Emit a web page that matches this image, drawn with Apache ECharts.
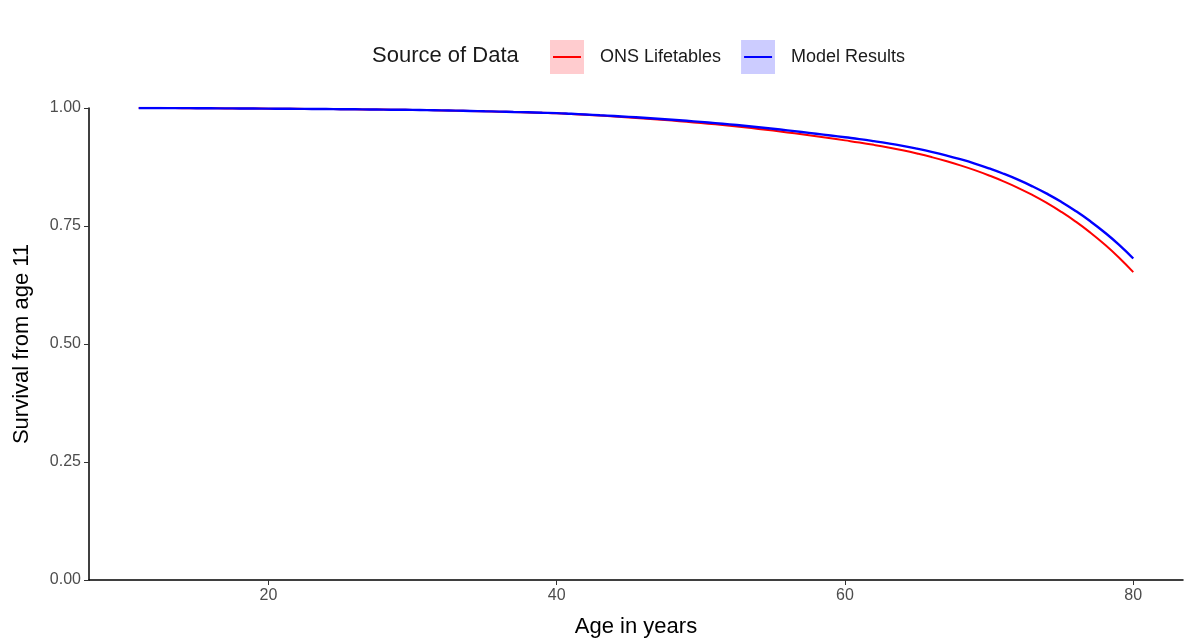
<!DOCTYPE html>
<html>
<head>
<meta charset="utf-8">
<script src="https://cdn.jsdelivr.net/npm/echarts@6/dist/echarts.min.js"></script>
<style>
  html, body { margin: 0; padding: 0; background: #fff; }
  #main { width: 1198px; height: 643px; }
</style>
</head>
<body>
<div id="main"></div>
<script>
// ages 11..80
var ages = [];
for (var a = 11; a <= 80; a++) ages.push(a);

var onsSurvival = [
  1.0000, 0.9999, 0.9998, 0.9997, 0.9996, 0.9994, 0.9992, 0.9990, 0.9988, 0.9986,
  0.9984, 0.9982, 0.9980, 0.9978, 0.9975, 0.9972, 0.9969, 0.9966, 0.9963, 0.9960,
  0.9955, 0.9949, 0.9943, 0.9936, 0.9929, 0.9922, 0.9914, 0.9906, 0.9897, 0.9887,
  0.9872, 0.9856, 0.9839, 0.9821, 0.9801, 0.9780, 0.9758, 0.9734, 0.9708, 0.9681,
  0.9653, 0.9623, 0.9591, 0.9557, 0.9521, 0.9483, 0.9443, 0.9401, 0.9358, 0.9314,
  0.9269, 0.9219, 0.9164, 0.9103, 0.9035, 0.8960, 0.8877, 0.8785, 0.8683, 0.8570,
  0.8446, 0.8309, 0.8157, 0.7988, 0.7801, 0.7594, 0.7365, 0.7112, 0.6832, 0.6522
];

var modelSurvival = [
  1.0000, 0.9999, 0.9998, 0.9997, 0.9996, 0.9994, 0.9992, 0.9990, 0.9988, 0.9986,
  0.9984, 0.9982, 0.9980, 0.9978, 0.9975, 0.9972, 0.9969, 0.9966, 0.9963, 0.9960,
  0.9956, 0.9950, 0.9944, 0.9938, 0.9931, 0.9924, 0.9916, 0.9909, 0.9900, 0.9891,
  0.9877, 0.9862, 0.9846, 0.9830, 0.9812, 0.9793, 0.9773, 0.9752, 0.9729, 0.9705,
  0.9680, 0.9653, 0.9624, 0.9593, 0.9561, 0.9527, 0.9491, 0.9454, 0.9417, 0.9379,
  0.9341, 0.9298, 0.9251, 0.9198, 0.9138, 0.9072, 0.8998, 0.8915, 0.8823, 0.8720,
  0.8607, 0.8481, 0.8341, 0.8185, 0.8012, 0.7819, 0.7605, 0.7368, 0.7105, 0.6812
];

var xTicks = [20, 40, 60, 80];
var seriesNames = ['ONS Lifetables', 'Model Results'];

function pairs(ys) {
  return ages.map(function (x, i) { return [x, ys[i]]; });
}

// legend key: shaded square with a line through it
function keyIcon(fill, stroke) {
  var svg = '<svg xmlns="http://www.w3.org/2000/svg" width="34" height="34">' +
    '<rect x="0" y="0" width="34" height="34" fill="' + fill + '"/>' +
    '<line x1="3" y1="17" x2="31" y2="17" stroke="' + stroke + '" stroke-width="2"/></svg>';
  return 'image://data:image/svg+xml;charset=utf-8,' + encodeURIComponent(svg);
}

var font = 'Liberation Sans, Arial, sans-serif';

var option = {
  animation: false,
  backgroundColor: '#fff',
  title: {
    text: 'Source of Data',
    left: 367,
    top: 40,
    textStyle: { fontFamily: font, fontSize: 22, fontWeight: 'normal', color: '#1a1a1a' }
  },
  legend: {
    left: 545,
    top: 35,
    itemWidth: 34,
    itemHeight: 34,
    itemGap: 20,
    data: [
      { name: seriesNames[0], icon: keyIcon('#ffcccf', '#ff0000') },
      { name: seriesNames[1], icon: keyIcon('#ccccff', '#0000ff') }
    ],
    textStyle: { fontFamily: font, fontSize: 18, color: '#1a1a1a', padding: [0, 0, 0, 11] }
  },
  grid: { left: 89, top: 108, width: 1094, height: 474, containLabel: false },
  xAxis: {
    type: 'value',
    min: 7.55,
    max: 83.45,
    name: 'Age in years',
    nameLocation: 'middle',
    nameGap: 36,
    nameTextStyle: { fontFamily: font, fontSize: 22, color: '#000' },
    axisLine: { lineStyle: { color: '#000', width: 1.5 } },
    axisTick: { customValues: xTicks, length: 5, lineStyle: { color: '#333', width: 1 } },
    axisLabel: { customValues: xTicks, fontFamily: font, fontSize: 16, color: '#4d4d4d', margin: 8 },
    splitLine: { show: false }
  },
  yAxis: {
    type: 'value',
    min: 0,
    max: 1,
    interval: 0.25,
    name: 'Survival from age 11',
    nameLocation: 'middle',
    nameGap: 56,
    nameTextStyle: { fontFamily: font, fontSize: 22, color: '#000' },
    axisLine: { show: true, lineStyle: { color: '#000', width: 1.5 } },
    axisTick: { show: true, length: 5, lineStyle: { color: '#333', width: 1 } },
    axisLabel: {
      fontFamily: font, fontSize: 16, color: '#4d4d4d', margin: 8,
      formatter: function (v) { return v.toFixed(2); }
    },
    splitLine: { show: false }
  },
  series: [
    {
      name: seriesNames[0],
      type: 'line',
      data: pairs(onsSurvival),
      showSymbol: false,
      smooth: true,
      lineStyle: { color: '#ff0000', width: 2 },
      itemStyle: { color: '#ff0000' }
    },
    {
      name: seriesNames[1],
      type: 'line',
      data: pairs(modelSurvival),
      showSymbol: false,
      smooth: true,
      lineStyle: { color: '#0000ff', width: 2.4 },
      itemStyle: { color: '#0000ff' }
    }
  ]
};

var myChart = echarts.init(document.getElementById('main'));
myChart.setOption(option);
</script>
</body>
</html>
